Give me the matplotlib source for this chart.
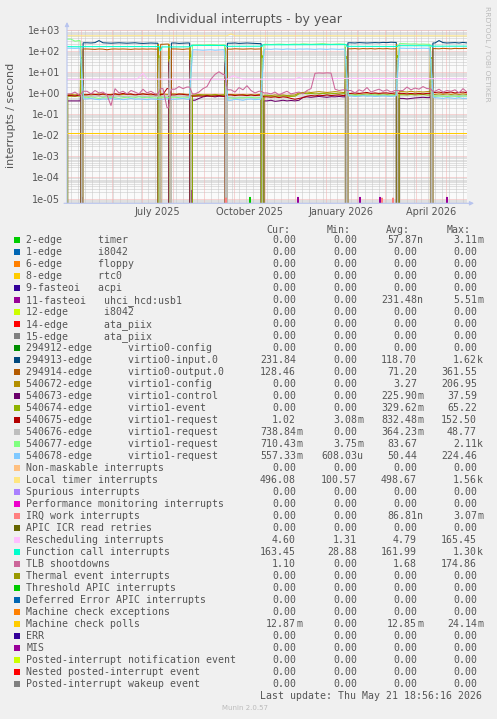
import matplotlib
matplotlib.use("Agg")
import matplotlib.pyplot as plt
import matplotlib.dates as mdates
from matplotlib.patches import Rectangle
from matplotlib.ticker import NullLocator
from datetime import datetime, timedelta

W, H, DPI = 497, 719, 100

# ---------------- data ----------------
START = datetime(2025, 4, 16, 18, 56, 16)
END = datetime(2026, 5, 21, 18, 56, 16)
SPAN_DAYS = 400

x_tick_dates = [datetime(2025, 7, 16), datetime(2025, 10, 16), datetime(2026, 1, 16), datetime(2026, 4, 16)]
x_tick_labels = ["July 2025", "October 2025", "January 2026", "April 2026"]
y_tick_values = [1e-5, 1e-4, 1e-3, 1e-2, 1e-1, 1e0, 1e1, 1e2, 1e3]
y_tick_labels = ["1e-05", "1e-04", "1e-03", "1e-02", "1e-01", "1e+00", "1e+01", "1e+02", "1e+03"]

# days since START at which the machine rebooted
reboot_days = [14.7, 92.3, 103.0, 124.0, 159.0, 195.5, 279.5, 330.7, 364.5]
# sample days of the noisy series (every 4 days)
grid_days = list(range(0, 401, 4))

labels = [
    "2-edge      timer", "1-edge      i8042", "6-edge      floppy", "8-edge      rtc0",
    "9-fasteoi   acpi", "11-fasteoi   uhci_hcd:usb1", "12-edge      i8042",
    "14-edge      ata_piix", "15-edge      ata_piix",
    "294912-edge      virtio0-config", "294913-edge      virtio0-input.0",
    "294914-edge      virtio0-output.0", "540672-edge      virtio1-config",
    "540673-edge      virtio1-control", "540674-edge      virtio1-event",
    "540675-edge      virtio1-request", "540676-edge      virtio1-request",
    "540677-edge      virtio1-request", "540678-edge      virtio1-request",
    "Non-maskable interrupts", "Local timer interrupts", "Spurious interrupts",
    "Performance monitoring interrupts", "IRQ work interrupts", "APIC ICR read retries",
    "Rescheduling interrupts", "Function call interrupts", "TLB shootdowns",
    "Thermal event interrupts", "Threshold APIC interrupts", "Deferred Error APIC interrupts",
    "Machine check exceptions", "Machine check polls", "ERR", "MIS",
    "Posted-interrupt notification event", "Nested posted-interrupt event",
    "Posted-interrupt wakeup event",
]
colors = [
    "#00CC00", "#0066B3", "#FF8000", "#FFCC00", "#330099", "#990099", "#CCFF00", "#FF0000",
    "#808080", "#008F00", "#00487D", "#B35A00", "#B38F00", "#6B006B", "#8FB300", "#B30000",
    "#BEBEBE", "#80FF80", "#80C9FF", "#FFC080", "#FFE680", "#AA80FF", "#EE00CC", "#FF8080",
    "#666600", "#FFBFFF", "#00FFCC", "#CC6699", "#999900", "#00CC00", "#0066B3", "#FF8000",
    "#FFCC00", "#330099", "#990099", "#CCFF00", "#FF0000", "#808080",
]
cur_vals = ["0.00", "0.00", "0.00", "0.00", "0.00", "0.00", "0.00", "0.00", "0.00", "0.00",
            "231.84", "128.46", "0.00", "0.00", "0.00", "1.02", "738.84m", "710.43m", "557.33m",
            "0.00", "496.08", "0.00", "0.00", "0.00", "0.00", "4.60", "163.45", "1.10", "0.00",
            "0.00", "0.00", "0.00", "12.87m", "0.00", "0.00", "0.00", "0.00", "0.00"]
min_vals = ["0.00", "0.00", "0.00", "0.00", "0.00", "0.00", "0.00", "0.00", "0.00", "0.00",
            "0.00", "0.00", "0.00", "0.00", "0.00", "3.08m", "0.00", "3.75m", "608.03u",
            "0.00", "100.57", "0.00", "0.00", "0.00", "0.00", "1.31", "28.88", "0.00", "0.00",
            "0.00", "0.00", "0.00", "0.00", "0.00", "0.00", "0.00", "0.00", "0.00"]
avg_vals = ["57.87n", "0.00", "0.00", "0.00", "0.00", "231.48n", "0.00", "0.00", "0.00", "0.00",
            "118.70", "71.20", "3.27", "225.90m", "329.62m", "832.48m", "364.23m", "83.67", "50.44",
            "0.00", "498.67", "0.00", "0.00", "86.81n", "0.00", "4.79", "161.99", "1.68", "0.00",
            "0.00", "0.00", "0.00", "12.85m", "0.00", "0.00", "0.00", "0.00", "0.00"]
max_vals = ["3.11m", "0.00", "0.00", "0.00", "0.00", "5.51m", "0.00", "0.00", "0.00", "0.00",
            "1.62k", "361.55", "206.95", "37.59", "65.22", "152.50", "48.77", "2.11k", "224.46",
            "0.00", "1.56k", "0.00", "0.00", "3.07m", "0.00", "165.45", "1.30k", "174.86", "0.00",
            "0.00", "0.00", "0.00", "24.14m", "0.00", "0.00", "0.00", "0.00", "0.00"]

# --- noisy series sampled on grid_days ---
virtio0_input = [0, 0, 0, 0, 230, 235, 230, 240, 300, 235,
                 230, 225, 230, 235, 230, 225, 230, 235, 225, 220,
                 225, 230, 225, 225, 0, 0, 225, 230, 220, 225,
                 230, 0, 0, 0, 0, 0, 0, 0, 0, 0,
                 215, 225, 230, 220, 225, 230, 225, 220, 215, 0,
                 0, 0, 0, 0, 0, 0, 0, 0, 0, 0,
                 0, 0, 0, 0, 0, 0, 0, 0, 0, 0,
                 230, 235, 230, 240, 235, 230, 235, 240, 235, 245,
                 240, 250, 245, 0, 0, 0, 0, 0, 0, 0,
                 0, 0, 230, 300, 240, 230, 235, 240, 230, 245, 232]
virtio0_output = [0, 0, 0, 0, 118, 120, 118, 115, 120, 118,
                  110, 118, 120, 118, 120, 118, 115, 120, 118, 120,
                  118, 120, 118, 120, 200, 205, 118, 120, 118, 115,
                  120, 0, 0, 0, 0, 0, 0, 0, 0, 0,
                  120, 118, 122, 120, 118, 120, 122, 118, 120, 0,
                  0, 0, 0, 0, 0, 0, 0, 0, 0, 0,
                  0, 0, 0, 0, 0, 0, 0, 0, 0, 0,
                  125, 122, 125, 120, 125, 122, 125, 120, 125, 122,
                  125, 120, 122, 0, 0, 0, 0, 0, 0, 0,
                  0, 0, 125, 122, 128, 125, 122, 128, 125, 127, 128]
virtio1_config = [0.85, 0.85, 0.8, 0.85, 0.9, 0.85, 0.8, 0.85, 0.9, 0.85,
                  0.8, 0.85, 0.9, 0.8, 0.85, 0.9, 0.85, 0.8, 0.85, 0.9,
                  0.85, 0.8, 0.85, 0.9, 0.9, 0.85, 0.85, 0.9, 0.85, 0.9,
                  0.85, 0.8, 0.8, 0.85, 0.8, 0.82, 0.8, 0.85, 0.8, 0.82,
                  0.8, 0.85, 0.82, 0.8, 0.85, 0.8, 0.82, 0.8, 0.85, 0.75,
                  0.78, 0.75, 0.8, 0.78, 0.8, 0.75, 0.78, 0.8, 1.0, 1.05,
                  1.1, 1.05, 1.1, 1.15, 1.1, 1.05, 1.1, 1.15, 1.1, 1.05,
                  0.85, 0.9, 0.85, 0.9, 0.85, 0.9, 0.85, 0.9, 0.85, 0.9,
                  0.85, 0.9, 0.85, 1.1, 1.15, 1.1, 1.2, 1.1, 1.15, 1.1,
                  1.15, 1.1, 0.85, 0.9, 0.85, 0.9, 0.85, 0.9, 0.85, 0.9, 0.85]
virtio1_control = [0, 0.42, 0.42, 0.42, 0, 0, 0, 0, 0, 0,
                   0, 0, 0, 0, 0, 0, 0, 0, 0, 0,
                   0, 0, 0, 0, 0, 0, 0, 0, 0, 0,
                   0, 0, 0.45, 0.55, 0.65, 0.7, 0.7, 0.65, 0.7, 0.68,
                   0, 0, 0, 0, 0, 0, 0, 0, 0, 0.45,
                   0.42, 0.45, 0.4, 0.42, 0.45, 0.42, 0.44, 0.42, 0.45, 0.62,
                   0.65, 0.62, 0.65, 0.68, 0.65, 0.62, 0.66, 0.65, 0.68, 0.65,
                   0, 0, 0, 0, 0, 0, 0, 0, 0, 0,
                   0, 0, 0, 0.55, 0.55, 0.52, 0.55, 0.58, 0.6, 0.62,
                   0.6, 0.62, 0, 0, 0, 0, 0, 0, 0, 0, 0]
virtio1_event = [0, 0.7, 0.7, 0.72, 0, 0, 0, 0, 0, 0,
                 0, 0, 0, 0, 0, 0, 0, 0, 0, 0,
                 0, 0, 0, 0, 0, 0, 0, 0, 0, 0,
                 0, 0, 0.75, 0.78, 0.8, 0.75, 0.78, 0.8, 0.76, 0.78,
                 0, 0, 0, 0, 0, 0, 0, 0, 0, 0.7,
                 0.72, 0.7, 0.68, 0.7, 0.72, 0.7, 0.68, 0.7, 0.9, 0.95,
                 0.92, 0.95, 0.9, 0.92, 0.95, 0.9, 0.92, 0.95, 0.9, 0.92,
                 0, 0, 0, 0, 0, 0, 0, 0, 0, 0,
                 0, 0, 0, 0.8, 0.82, 0.8, 0.85, 0.8, 0.82, 0.85,
                 0.8, 0.82, 0, 0, 0, 0, 0, 0, 0, 0, 0]
virtio1_req75 = [0.75, 0.75, 0.72, 0.78, 0.85, 0.8, 0.9, 0.85, 0.8, 0.9,
                 0.85, 0.8, 0.9, 0.85, 0.95, 0.85, 0.9, 0.8, 0.85, 0.9,
                 0.85, 0.9, 0.8, 0.9, 0.85, 1.6, 0.85, 0.8, 0.9, 0.85,
                 0.8, 0.8, 0.7, 0.72, 0.7, 0.75, 0.7, 0.72, 0.75, 0.7,
                 0.75, 0.8, 0.75, 0.8, 0.78, 0.75, 0.8, 0.75, 0.78, 0.65,
                 0.65, 0.62, 0.65, 0.6, 0.65, 0.62, 0.55, 0.5, 0.55, 0.6,
                 0.7, 0.75, 0.72, 0.78, 0.75, 0.8, 0.75, 0.78, 0.8, 0.75,
                 0.9, 0.95, 1.0, 0.95, 1.0, 1.05, 0.95, 1.0, 0.95, 1.0,
                 1.0, 0.95, 1.0, 0.9, 0.95, 0.9, 0.95, 0.9, 0.95, 0.9,
                 0.95, 0.9, 1.05, 1.1, 1.0, 1.05, 1.1, 1.0, 1.05, 1.1, 1.02]
virtio1_req76 = [0, 0, 0, 0, 0.65, 0.7, 0.68, 0.72, 0.7, 0.65,
                 0.7, 0.68, 0.72, 0.7, 0.68, 0.65, 0.7, 0.72, 0.68, 0.7,
                 0.65, 0.7, 0.68, 0.7, 0.7, 0.72, 0.68, 0.7, 0.72, 0.7,
                 0.68, 0, 0, 0, 0, 0, 0, 0, 0, 0,
                 0.6, 0.62, 0.6, 0.58, 0.6, 0.62, 0.6, 0.58, 0.6, 0,
                 0, 0, 0, 0, 0, 0, 0, 0, 0, 0,
                 0, 0, 0, 0, 0, 0, 0, 0, 0, 0,
                 0.75, 0.78, 0.75, 0.72, 0.75, 0.78, 0.75, 0.72, 0.75, 0.78,
                 0.75, 0.72, 0.75, 0, 0, 0, 0, 0, 0, 0,
                 0, 0, 0.72, 0.75, 0.72, 0.7, 0.75, 0.72, 0.75, 0.72, 0.74]
virtio1_req77 = [280, 350, 280, 300, 0.6, 0.62, 0.58, 0.6, 0.55, 0.6,
                 0.58, 0.62, 0.6, 0.55, 0.6, 0.62, 0.58, 0.6, 0.65, 0.6,
                 0.62, 0.6, 0.58, 0.6, 0.62, 0.6, 0.58, 0.62, 0.6, 0.58,
                 0.6, 0.6, 185, 190, 185, 190, 195, 190, 185, 190,
                 0.55, 0.58, 0.55, 0.6, 0.58, 0.6, 0.62, 0.58, 0.6, 195,
                 200, 195, 200, 205, 200, 195, 200, 205, 200, 210,
                 205, 200, 205, 210, 215, 205, 200, 205, 210, 205,
                 0.75, 0.8, 0.78, 0.75, 0.8, 0.78, 0.82, 0.8, 0.78, 0.8,
                 0.78, 0.8, 0.75, 210, 215, 210, 205, 210, 200, 205,
                 200, 205, 0.7, 0.72, 0.7, 0.68, 0.72, 0.7, 0.68, 0.72, 0.71]
virtio1_req78 = [130, 130, 128, 130, 0.5, 0.52, 0.55, 0.5, 0.48, 0.52,
                 0.5, 0.55, 0.5, 0.52, 0.48, 0.5, 0.55, 0.5, 0.52, 0.5,
                 0.48, 0.52, 0.5, 0.55, 0.5, 0.52, 0.55, 0.5, 0.52, 0.55,
                 0.5, 0.5, 110, 108, 105, 108, 110, 105, 108, 110,
                 0.5, 0.45, 0.5, 0.48, 0.45, 0.5, 0.52, 0.48, 0.5, 115,
                 118, 115, 120, 118, 115, 120, 118, 115, 120, 118,
                 120, 118, 115, 120, 118, 115, 120, 118, 115, 118,
                 0.7, 0.72, 0.68, 0.7, 0.75, 0.7, 0.72, 0.68, 0.7, 0.72,
                 0.7, 0.68, 0.72, 135, 130, 128, 130, 125, 128, 130,
                 128, 125, 0.6, 0.58, 0.55, 0.6, 0.58, 0.55, 0.6, 0.55, 0.56]
tlb_shootdowns = [0.3, 0.9, 1.1, 0.8, 1.0, 1.2, 0.9, 1.3, 1.0, 1.1,
                  0.8, 0.25, 1.6, 1.0, 1.2, 0.9, 1.3, 1.1, 0.9, 1.5,
                  1.0, 1.2, 0.9, 1.4, 1.6, 0.2, 1.8, 1.5, 2.0, 1.6,
                  1.9, 1.2, 0.9, 1.1, 1.6, 2.0, 4.5, 7.5, 10.0, 7.5,
                  1.2, 1.4, 1.1, 1.8, 1.4, 2.2, 1.3, 1.0, 1.2, 0.9,
                  1.0, 0.9, 1.1, 0.8, 1.0, 1.2, 0.9, 1.0, 1.1, 0.9,
                  1.3, 1.6, 8.5, 8.8, 8.6, 8.9, 8.7, 1.5, 1.3, 1.4,
                  1.1, 1.3, 1.0, 1.4, 1.2, 1.8, 1.1, 1.3, 1.5, 1.2,
                  1.4, 1.1, 1.3, 1.6, 1.3, 1.9, 1.4, 1.7, 1.5, 2.0,
                  1.6, 1.4, 1.2, 1.5, 1.1, 1.3, 1.2, 1.4, 1.0, 1.6, 1.1]

# spikes on reboot days
config_peaks = [130, 200, 200, 150, 140, 150, 150, 200, 150]
control_peaks = [30, 35, 30, 37, 30, 35, 30, 35, 30]
event_peaks = [50, 60, 55, 65, 50, 60, 55, 60, 50]
req76_peaks = [40, 45, 40, 48, 40, 45, 40, 45, 40]

# --- smooth series as (day, value) breakpoints ---
local_timer_days = [0, 40, 80, 120, 160, 164, 168, 200, 240, 280, 320, 360, 400]
local_timer_vals = [505, 500, 510, 500, 505, 620, 505, 500, 505, 500, 498, 502, 496]
resched_days = [0, 70, 76, 80, 160, 166, 170, 176, 228, 232, 236, 280, 330, 400]
resched_vals = [4.4, 4.5, 8.5, 4.5, 4.4, 6.5, 5.5, 4.5, 4.4, 5.5, 4.5, 4.9, 4.8, 4.6]
funcall_days = [0, 14.7, 14.8, 92.3, 93.0, 95.0, 103.0, 103.1, 124.0, 124.1, 159.0, 159.1,
                195.5, 195.6, 279.5, 279.6, 330.7, 330.8, 364.5, 364.6, 400]
funcall_vals = [155, 152, 155, 156, 95, 150, 150, 150, 152, 178, 175, 160,
                162, 188, 192, 160, 158, 172, 170, 162, 163]
mc_polls_days = [0, 400]
mc_polls_vals = [0.01287, 0.01287]

# --- tiny single-day bursts ---
timer2_days = [183]
timer2_peaks = [1.2e-05]
usb_days = [15, 124.7, 160, 231, 293, 313, 380]
usb_peaks = [1.2e-05, 2.5e-05, 1.1e-05, 1.2e-05, 1.2e-05, 1.2e-05, 1.2e-05]
irqwork_days = [159, 315, 326]
irqwork_peaks = [1.1e-05, 1.1e-05, 1.1e-05]

# ---------------- series construction ----------------
bounds = [0.0] + reboot_days + [float(SPAN_DAYS)]
EDGE = 1.4   # half width of a reboot band, in days (= px)


def grid_series(vals, drops, peaks=None, edge=EDGE, pk=0.45):
    xs, ys = [], []
    nseg = len(bounds) - 1
    for k in range(nseg):
        lo, hi = bounds[k], bounds[k + 1]
        last = k == nseg - 1
        idx = [i for i, d in enumerate(grid_days)
               if d > lo + edge and (d < hi - edge or (last and d <= hi))]
        if drops:
            if k == 0:
                xs.append(0.0); ys.append(0.0)
            else:
                if peaks is not None:
                    xs.append(lo - pk); ys.append(peaks[k - 1])
                xs.append(lo + pk); ys.append(0.0)
        if k == 0:
            xs.append(0.6 if drops else 0.0)
        else:
            xs.append(lo + edge)
        ys.append(vals[idx[0]])
        for i in idx:
            xs.append(grid_days[i]); ys.append(vals[i])
        if not last:
            xs.append(hi - edge); ys.append(vals[idx[-1]])
    return xs, ys


def spike_series(days, peaks):
    xs, ys = [0.0], [0.0]
    for d, p in zip(days, peaks):
        xs += [d - 0.7, d, d + 0.7]
        ys += [0.0, p, 0.0]
    xs.append(float(SPAN_DAYS)); ys.append(0.0)
    return xs, ys


zero_series = ([0.0, float(SPAN_DAYS)], [0.0, 0.0])

series = [zero_series] * len(labels)
series[0] = spike_series(timer2_days, timer2_peaks)
series[5] = spike_series(usb_days, usb_peaks)
series[10] = grid_series(virtio0_input, True)
series[11] = grid_series(virtio0_output, True, pk=0.7)
series[12] = grid_series(virtio1_config, True, config_peaks, pk=1.1)
series[13] = grid_series(virtio1_control, True, control_peaks, pk=0.8)
series[14] = grid_series(virtio1_event, True, event_peaks, pk=0.5)
series[15] = grid_series(virtio1_req75, False)
series[16] = grid_series(virtio1_req76, True, req76_peaks, pk=0.2)
series[17] = grid_series(virtio1_req77, False, edge=1.6)
series[18] = grid_series(virtio1_req78, False, edge=1.8)
series[20] = (local_timer_days, local_timer_vals)
series[23] = spike_series(irqwork_days, irqwork_peaks)
series[25] = (resched_days, resched_vals)
series[26] = (funcall_days, funcall_vals)
series[27] = grid_series(tlb_shootdowns, False)
series[32] = (mc_polls_days, mc_polls_vals)

# ---------------- figure ----------------
TXT = "#555555"
fig = plt.figure(figsize=(W / DPI, H / DPI), dpi=DPI, facecolor="#F0F0F0")
ax_top, ax_bot, ax_l, ax_r = 29.5, 203.3, 67.0, 467.0
ax = fig.add_axes([ax_l / W, 1 - ax_bot / H, (ax_r - ax_l) / W, (ax_bot - ax_top) / H])
ax.set_facecolor("#FAFAFA")
ax.set_yscale("log")

t0 = mdates.date2num(START)
t1 = mdates.date2num(END)
ymin, ymax = 10 ** -5.221, 1e3

MINOR = "#C6C6C6"
MAJOR = "#F2B0B0"
# grid
for k in range(-6, 3):
    for m in range(2, 10):
        v = m * 10.0 ** k
        if ymin < v < ymax:
            ax.axhline(v, color=MINOR, lw=0.72, ls=(0, (1, 1)), zorder=0.5)
d = START.date() + timedelta(days=1)
while d <= END.date():
    if d.weekday() == 0 and d.day != 1:
        ax.axvline(mdates.date2num(datetime(d.year, d.month, d.day)), color=MINOR,
                   lw=0.72, ls=(0, (1, 1)), zorder=0.5)
    d += timedelta(days=1)
for v in y_tick_values:
    ax.axhline(v, color=MAJOR, lw=0.72, ls=(0, (1, 1)), zorder=0.6)
y, mo = 2025, 5
while datetime(y, mo, 1) < END:
    ax.axvline(mdates.date2num(datetime(y, mo, 1)), color=MAJOR, lw=0.72,
               ls=(0, (1, 1)), zorder=0.6)
    mo += 1
    if mo > 12:
        mo, y = 1, y + 1

# data lines
for (xs, ys), c in zip(series, colors):
    ax.plot([t0 + x for x in xs], ys, color=c, lw=0.75, zorder=2, solid_joinstyle="miter")

ax.set_xlim(t0, t1)
ax.set_ylim(ymin, ymax)
for s in ax.spines.values():
    s.set_visible(False)
ax.set_yticks(y_tick_values)
ax.set_yticklabels(y_tick_labels)
ax.yaxis.set_minor_locator(NullLocator())
ax.set_xticks([mdates.date2num(t) for t in x_tick_dates])
ax.set_xticklabels(x_tick_labels)
ax.xaxis.set_minor_locator(NullLocator())
ax.tick_params(axis="y", length=0, pad=5, labelsize=7, colors=TXT)
ax.tick_params(axis="x", length=0, pad=2.5, labelsize=7, colors=TXT)

# axis lines with arrows
AX_COL = "#B8C4EE"
ax.annotate("", xy=(0, 1 + (ax_top - 22.0) / (ax_bot - ax_top)), xytext=(0, 0),
            xycoords="axes fraction", textcoords="axes fraction",
            arrowprops=dict(arrowstyle="-|>", color=AX_COL, lw=0.8, mutation_scale=6,
                            shrinkA=0, shrinkB=0), annotation_clip=False)
ax.annotate("", xy=(1 + 7.0 / (ax_r - ax_l), 0), xytext=(-3.0 / (ax_r - ax_l), 0),
            xycoords="axes fraction", textcoords="axes fraction",
            arrowprops=dict(arrowstyle="-|>", color=AX_COL, lw=0.8, mutation_scale=6,
                            shrinkA=0, shrinkB=0), annotation_clip=False)


def ftext(x, y, s, **kw):
    return fig.text(x / W, 1 - y / H, s, **kw)


ftext(248.5, 19, "Individual interrupts - by year", ha="center", va="center",
      fontsize=9, color=TXT)
ftext(11, 115, "interrupts / second", ha="center", va="center", rotation=90,
      fontsize=8, color=TXT)
ftext(487, 53.5, "RRDTOOL / TOBI OETIKER", ha="center", va="center", rotation=270,
      fontsize=5.4, color="#BBBBBB")

MONO = "DejaVu Sans Mono"
FS = 7.1
header_y = 229.0
row0_y = 239.7
row_h = 12.0
base = 3.6
for txt, x in zip(["Cur:", "Min:", "Avg:", "Max:"], [266.2, 326.2, 386.2, 446.2]):
    ftext(x, header_y + base, txt, ha="left", va="baseline", family=MONO, fontsize=FS, color=TXT)

col_right = [296.0, 357.0, 417.0, 477.0]
for i, lab in enumerate(labels):
    yc = row0_y + i * row_h
    fig.patches.append(Rectangle((14 / W, 1 - (yc + 3) / H), 6 / W, 6 / H,
                                 transform=fig.transFigure, facecolor=colors[i],
                                 edgecolor="none"))
    ftext(26.2, yc + base, lab, ha="left", va="baseline", family=MONO, fontsize=FS, color=TXT)
    for col, vals in zip(col_right, [cur_vals, min_vals, avg_vals, max_vals]):
        s = vals[i]
        unit = s[-1] if s[-1].isalpha() else ""
        num = s[:-1] if unit else s
        ftext(col, yc + base, num, ha="right", va="baseline", family=MONO, fontsize=FS, color=TXT)
        if unit:
            ftext(col + 0.3, yc + base, unit, ha="left", va="baseline", family=MONO,
                  fontsize=FS, color=TXT)

ftext(482.0, row0_y + len(labels) * row_h + base, "Last update: Thu May 21 18:56:16 2026",
      ha="right", va="baseline", family=MONO, fontsize=FS, color=TXT)
ftext(245.5, 708.3, "Munin 2.0.57", ha="center", va="center", fontsize=5, color="#BBBBBB")

fig.savefig("out.png", dpi=DPI, facecolor=fig.get_facecolor())
